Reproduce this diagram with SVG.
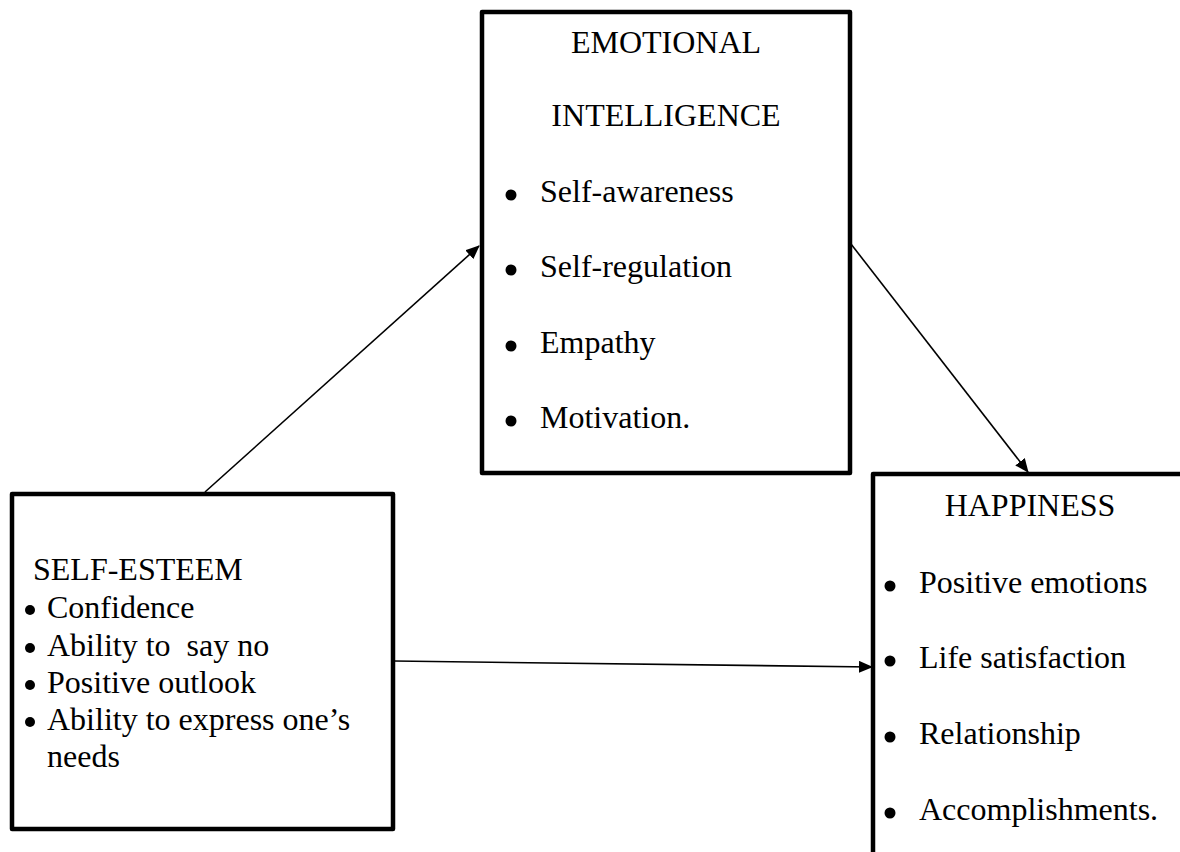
<svg xmlns="http://www.w3.org/2000/svg" width="1180" height="852" viewBox="0 0 1180 852">
<style>
.box{fill:#fff;stroke:#000;stroke-width:4.5;stroke-linejoin:round}
.t{font-family:"Liberation Serif","Times New Roman",serif;font-size:32px;fill:#000;white-space:pre}
.c{text-anchor:middle}
.ln{stroke:#000;stroke-width:1.6;fill:none}
</style>
<defs>
<marker id="ah" markerWidth="14" markerHeight="12" refX="13" refY="6" orient="auto" markerUnits="userSpaceOnUse">
<path d="M0,0 L14,6 L0,12 Z" fill="#000"/>
</marker>
</defs>
<rect width="1180" height="852" fill="#fff"/>
<g id="connectors">
<line class="ln" x1="205" y1="492" x2="479" y2="246" marker-end="url(#ah)"/>
<line class="ln" x1="851" y1="244" x2="1028" y2="472" marker-end="url(#ah)"/>
<line class="ln" x1="394" y1="661" x2="872" y2="667" marker-end="url(#ah)"/>
</g>
<g id="emotional-intelligence">
<rect class="box" x="482" y="12" width="368" height="461"/>
<text class="t c" x="666" y="53">EMOTIONAL</text>
<text class="t c" x="666" y="126">INTELLIGENCE</text>
<circle cx="511" cy="195" r="5.5"/><text class="t" x="540" y="202">Self-awareness</text>
<circle cx="511" cy="270" r="5.5"/><text class="t" x="540" y="277">Self-regulation</text>
<circle cx="511" cy="346" r="5.5"/><text class="t" x="540" y="353">Empathy</text>
<circle cx="511" cy="421" r="5.5"/><text class="t" x="540" y="428">Motivation.</text>
</g>
<g id="self-esteem">
<rect class="box" x="12" y="494" width="381" height="335"/>
<text class="t" x="33" y="580">SELF-ESTEEM</text>
<circle cx="30" cy="610" r="5"/><text class="t" x="47" y="618">Confidence</text>
<circle cx="30" cy="648" r="5"/><text class="t" x="47" y="656" xml:space="preserve">Ability to  say no</text>
<circle cx="30" cy="685" r="5"/><text class="t" x="47" y="693">Positive outlook</text>
<circle cx="30" cy="722" r="5"/><text class="t" x="47" y="730">Ability to express one’s</text>
<text class="t" x="47" y="767">needs</text>
</g>
<g id="happiness">
<path class="box" d="M873,860 L873,474 L1190,474"/>
<text class="t c" x="1030" y="516">HAPPINESS</text>
<circle cx="890" cy="586" r="5.5"/><text class="t" x="919" y="593">Positive emotions</text>
<circle cx="890" cy="661" r="5.5"/><text class="t" x="919" y="668">Life satisfaction</text>
<circle cx="890" cy="737" r="5.5"/><text class="t" x="919" y="744">Relationship</text>
<circle cx="890" cy="813" r="5.5"/><text class="t" x="919" y="820">Accomplishments.</text>
</g>
</svg>
